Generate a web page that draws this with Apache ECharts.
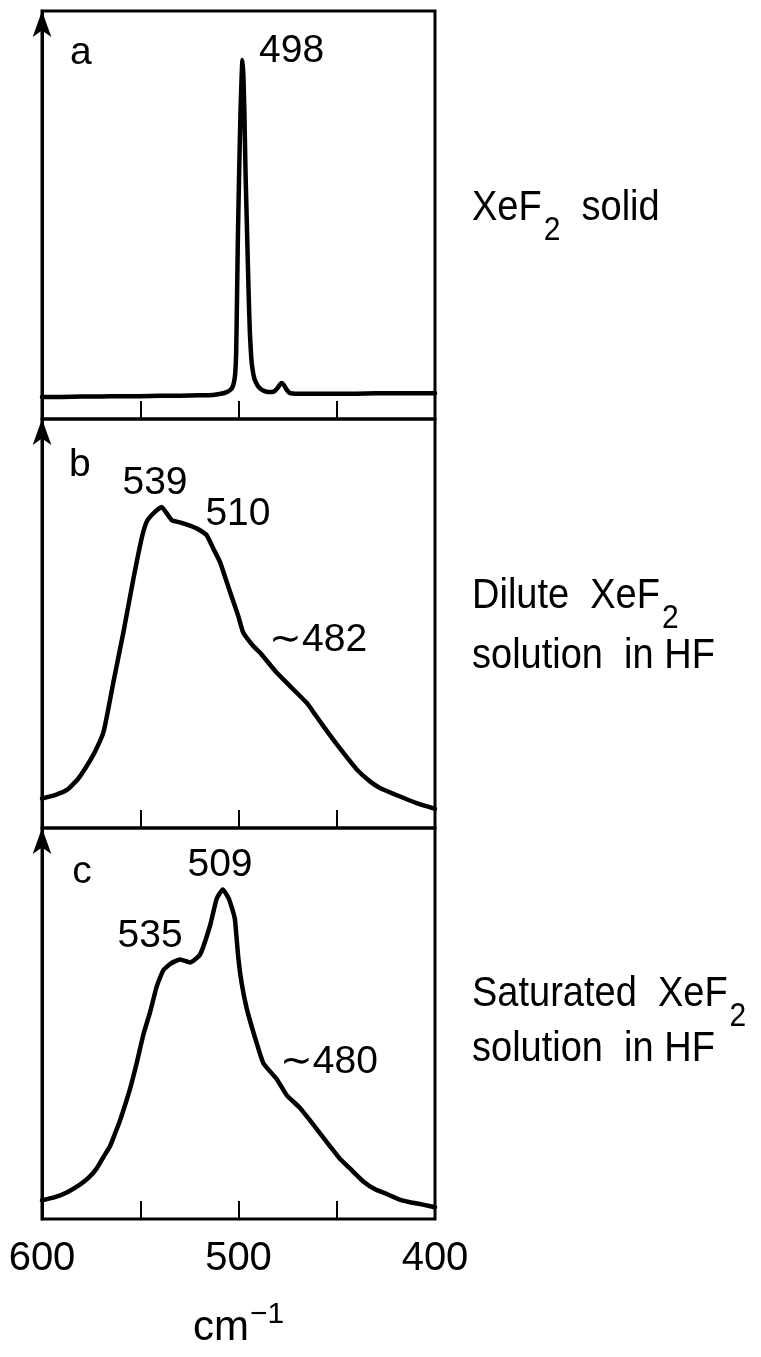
<!DOCTYPE html>
<html>
<head>
<meta charset="utf-8">
<script src="https://cdn.jsdelivr.net/npm/echarts@6/dist/echarts.min.js"></script>
<style>
html,body{margin:0;padding:0;background:#fff;}
#chart{width:761px;height:1357px;}
</style>
</head>
<body>
<div id="chart"></div>
<script>
// ---- Data (wavenumber cm-1, relative intensity 0-100 per panel) ----
const panelA_x = [600, 590, 580, 570, 560, 550, 540, 530, 520, 513, 509, 506, 504, 503, 502.3, 501.7, 501.2, 500.8, 500.3, 499.6, 499, 498.4, 498, 497.5, 497, 496.4, 495.6, 494.8, 494.2, 493.5, 492.8, 492, 491, 490, 488.5, 487, 485, 483, 481.5, 480, 478.8, 478, 477, 475.5, 474, 470, 460, 450, 440, 430, 420, 410, 400];
const panelA_y = [5.4, 5.4, 5.5, 5.5, 5.6, 5.6, 5.7, 5.7, 5.8, 5.9, 6.2, 6.6, 7.2, 7.9, 9.0, 11, 16, 28, 45, 62, 75, 84, 88, 84, 75, 60, 45, 30, 21, 15, 12, 10, 8.8, 8.0, 7.3, 6.9, 6.6, 6.6, 6.9, 7.7, 8.5, 8.8, 8.4, 7.2, 6.4, 6.2, 6.2, 6.2, 6.2, 6.3, 6.3, 6.3, 6.3];

const panelB_x = [600, 593, 587.4, 582, 577.3, 573, 568.8, 566.3, 563.7, 558.6, 553.5, 549.3, 546.7, 543.4, 539.1, 536.5, 534, 529.8, 523, 519.6, 516.2, 512.8, 509.4, 504.3, 500.1, 497.6, 492.5, 489.1, 480.6, 473.8, 465.3, 461.1, 456.8, 451.8, 446.7, 439.8, 433.1, 428, 417.8, 409.3, 400];
const panelB_y = [7.2, 8.1, 9.3, 11.8, 15.1, 18.7, 23.3, 29.0, 35.6, 47.8, 60.9, 70.8, 74.9, 76.9, 78.5, 76.9, 75.3, 74.7, 73.6, 72.8, 71.6, 68.3, 65.0, 57.7, 51.8, 47.8, 44.5, 42.9, 38.0, 34.7, 30.6, 27.8, 24.9, 21.6, 18.4, 14.3, 11.4, 9.8, 7.7, 6.1, 4.7];

const panelC_x = [600, 593.4, 587.4, 580.7, 576.4, 572.2, 568.8, 565.4, 562.8, 560.3, 555.2, 551.8, 548.4, 545, 541.6, 538.3, 534.9, 529.8, 524.7, 519.6, 514.5, 511.1, 508, 505, 502.6, 501.8, 500.1, 498.4, 495.8, 491.6, 487.4, 480.6, 475.5, 468.7, 463.6, 458.5, 453.4, 448.4, 442.4, 436.5, 430.5, 424.6, 418.7, 412.7, 406.8, 400];
const panelC_y = [4.8, 5.6, 6.8, 8.8, 10.5, 12.9, 15.8, 18.6, 21.9, 25.2, 33.3, 39.9, 47.2, 52.9, 59.5, 63.6, 65.2, 66.4, 65.6, 67.6, 75.0, 81.9, 84.3, 82.0, 78.3, 76.6, 66.8, 60.3, 53.8, 46.4, 39.9, 35.8, 31.7, 28.4, 25.2, 21.9, 18.6, 15.4, 12.5, 9.6, 7.6, 6.4, 5.1, 4.3, 3.75, 3.0];

const panelLetters = ['a', 'b', 'c'];
const peakLabels = [
  [{name: '498', x: 473, y: 90.2}],
  [{name: '539', x: 542.5, y: 84.4}, {name: '510', x: 500.3, y: 76.8}, {name: '\u223C482', x: 459.5, y: 45.8}],
  [{name: '509', x: 509.4, y: 90.6}, {name: '535', x: 545.0, y: 72.2}, {name: '\u223C480', x: 454.0, y: 40.0}]
];
const letterPos = [[580.2, 89.7], [580.7, 88.6], [579.6, 88.8]];
const xTickLabels = [600, 500, 400];
const sampleLines = [
  ['{m|XeF}{s|2}{m|  solid}'],
  ['{m|Dilute  XeF}{s|2}', '{m|solution  in HF}'],
  ['{m|Saturated  XeF}{s|2}', '{m|solution  in HF}']
];

// ---- Chart ----
const F = '"Liberation Sans", Arial, Helvetica, sans-serif';
const FS = 39;
const chart = echarts.init(document.getElementById('chart'), null, {renderer: 'canvas'});

const grids = [
  {left: 42, top: 11, width: 393, height: 408},
  {left: 42, top: 419, width: 393, height: 409},
  {left: 42, top: 828, width: 393, height: 408}
].map(g => Object.assign(g, {show: true, borderColor: '#000', borderWidth: 3, backgroundColor: 'transparent'}));

const xAxes = [0, 1, 2].map(i => ({
  type: 'value', gridIndex: i, min: 400, max: 600, interval: 50, inverse: true,
  axisLine: {show: false},
  axisTick: {show: true, inside: true, length: 18, lineStyle: {color: '#000', width: 2}},
  splitLine: {show: false},
  axisLabel: {
    show: i === 2, margin: 20, color: '#000', fontSize: 40, fontFamily: F,
    formatter: v => xTickLabels.indexOf(v) >= 0 ? String(v) : ''
  },
  name: i === 2 ? '{m|cm}{p|\u22121}' : '',
  nameLocation: 'middle', nameGap: 86,
  nameTextStyle: {
    rich: {
      m: {fontSize: 42, fontFamily: F, color: '#000', lineHeight: 46},
      p: {fontSize: 30, fontFamily: F, color: '#000', lineHeight: 46, padding: [0, 0, 26, 1]}
    }
  }
}));

const yAxes = [0, 1, 2].map(i => ({
  type: 'value', gridIndex: i, min: 0, max: 100,
  axisLine: {show: true, symbol: ['none', 'arrow'], symbolSize: [14, 26], lineStyle: {color: '#000', width: 3}},
  axisTick: {show: false}, axisLabel: {show: false}, splitLine: {show: false}
}));

const xs = [panelA_x, panelB_x, panelC_x];
const ys = [panelA_y, panelB_y, panelC_y];

const series = [0, 1, 2].map(i => ({
  type: 'line', xAxisIndex: i, yAxisIndex: i,
  data: xs[i].map((x, k) => [x, ys[i][k]]),
  showSymbol: false, smooth: 0.15,
  lineStyle: {color: '#000', width: 4.5, join: 'round', cap: 'round'},
  silent: true,
  markPoint: {
    symbol: 'circle', symbolSize: 0, silent: true,
    label: {show: true, position: 'inside', color: '#000', fontSize: FS, fontFamily: F, formatter: '{b}'},
    data: [{name: panelLetters[i], coord: letterPos[i]}]
      .concat(peakLabels[i].map(p => ({name: p.name, coord: [p.x, p.y]})))
  }
}));

const richRight = {
  m: {fontSize: 38, fontFamily: F, color: '#000', lineHeight: 44},
  s: {fontSize: 30, fontFamily: F, color: '#000', lineHeight: 44, padding: [42, 0, 0, 2]}
};
const rightY = [[208], [596, 656], [994, 1049]];
const graphic = [];
sampleLines.forEach((lines, i) => {
  lines.forEach((t, j) => {
    graphic.push({type: 'text', x: 472, y: rightY[i][j], scaleY: 1.1, silent: true,
      style: {text: t, rich: richRight, verticalAlign: 'middle', align: 'left'}});
  });
});

chart.setOption({
  animation: false,
  backgroundColor: '#fff',
  grid: grids,
  xAxis: xAxes,
  yAxis: yAxes,
  series: series,
  graphic: graphic
});
</script>
</body>
</html>
